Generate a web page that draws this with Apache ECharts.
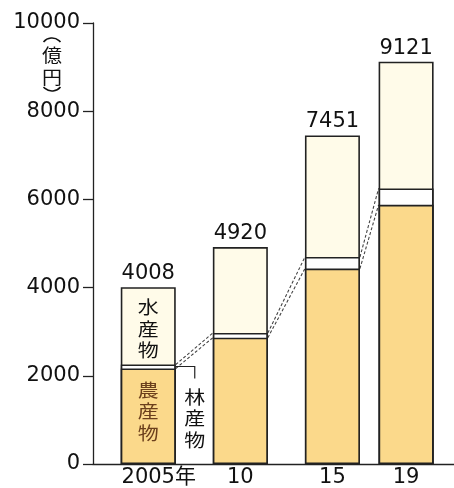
<!DOCTYPE html>
<html><head><meta charset="utf-8">
<script src="https://cdn.jsdelivr.net/npm/echarts@6/dist/echarts.min.js"></script>
<style>html,body{margin:0;padding:0;background:#fff}#c{width:454px;height:488px}</style>
</head><body><div id="c"></div>
<script>
const years = [2005, 2010, 2015, 2019];
const yearLabels = ['2005年', '10', '15', '19'];
const agri = [2166, 2865, 4431, 5878];
const forest = [90, 106, 263, 370];
const fish = [1752, 1949, 2757, 2873];
const totals = [4008, 4920, 7451, 9121];
const yTicks = [0, 2000, 4000, 6000, 8000, 10000];

const NUM = "'DejaVu Sans','Noto Sans CJK JP',sans-serif";
const JP = "'Noto Sans CJK JP',sans-serif";
const X_MIN = 2002, X_MAX = 2021.6;
const GRID = {left: 93, right: 0, top: 23, bottom: 24};
const BAR_W = 55;
const chart = echarts.init(document.getElementById('c'));
const pxPerYear = (454 - GRID.left - GRID.right) / (X_MAX - X_MIN);
const half = (BAR_W / 2) / pxPerYear;

// cumulative tops (drawn as overlapping bars, largest first)
const agriTop = agri.slice();
const forestTop = agri.map((v, i) => v + forest[i]);
const fishTop = forestTop.map((v, i) => v + fish[i]);

const border = {borderColor: '#222', borderWidth: 1.6};
function barSeries(name, vals, color, z, extra) {
  return Object.assign({
    name, type: 'bar', barWidth: BAR_W, barGap: '-100%',
    itemStyle: Object.assign({color}, border),
    data: vals.map((v, i) => [years[i], v]),
    z
  }, extra || {});
}

const series = [
  barSeries('水産物', fishTop, '#fffbe9', 3, {
    label: {show: true, position: 'top', distance: 3, color: '#111', fontFamily: NUM, fontSize: 21,
      formatter: p => String(totals[p.dataIndex])}
  }),
  barSeries('林産物', forestTop, '#ffffff', 4),
  barSeries('農産物', agriTop, '#fbd98b', 5)
];

// dashed connectors between agri tops and forestry tops of neighbouring bars
for (let i = 0; i < years.length - 1; i++) {
  [[agriTop[i], agriTop[i + 1]], [forestTop[i], forestTop[i + 1]]].forEach(([a, b]) => {
    series.push({
      type: 'line', silent: true, symbol: 'none', z: 2,
      lineStyle: {color: '#444', width: 1.1, type: [3, 2]},
      data: [[years[i] + half, a], [years[i + 1] - half, b]]
    });
  });
}

chart.setOption({
  animation: false,
  grid: GRID,
  xAxis: {
    type: 'value', min: X_MIN, max: X_MAX,
    splitLine: {show: false},
    axisLine: {lineStyle: {color: '#222', width: 1.3}},
    axisTick: {show: false},
    axisLabel: {
      customValues: years,
      formatter: v => {
        const i = years.indexOf(v);
        if (i < 0) return '';
        return i === 0 ? '{f|' + yearLabels[i] + '}' : yearLabels[i];
      },
      rich: {f: {padding: [0, 0, 0, 21], fontFamily: NUM, fontSize: 21, color: '#111'}},
      color: '#111', fontFamily: NUM, fontSize: 21, margin: 3
    }
  },
  yAxis: {
    type: 'value', min: 0, max: 10000, interval: 2000,
    splitLine: {show: false},
    axisLine: {show: true, lineStyle: {color: '#222', width: 1.3}},
    axisTick: {show: true, length: 10, lineStyle: {color: '#222', width: 1.3}},
    axisLabel: {color: '#111', fontFamily: NUM, fontSize: 21, margin: 13,
      customValues: yTicks, formatter: v => String(v)}
  },
  series
});

// annotations
const pFish = chart.convertToPixel({gridIndex: 0}, [years[0], forestTop[0] + fish[0] / 2]);
const pFor = chart.convertToPixel({gridIndex: 0}, [years[0] + half, agri[0] + forest[0] / 2]);
const pAgri = chart.convertToPixel({gridIndex: 0}, [years[0], agri[0] / 2]);
const legX = pFor[0] + 19;
const jp = (x, y, text, fill) => ({type: 'text', x, y, scaleY: 0.86, z: 10,
  style: {text, font: '21px ' + JP, lineHeight: 25, fill, align: 'center', verticalAlign: 'middle'}});
const parenStyle = {stroke: '#111', lineWidth: 1.6, fill: null};
chart.setOption({
  graphic: [
    {type: 'arc', shape: {cx: 52, cy: 49, r: 11, startAngle: Math.PI * 1.22, endAngle: Math.PI * 1.78}, style: parenStyle},
    {type: 'text', x: 52, y: 66, scaleY: 0.9, style: {text: '億\n円', font: '20px ' + JP, lineHeight: 25, fill: '#111', align: 'center', verticalAlign: 'middle'}},
    {type: 'arc', shape: {cx: 52, cy: 80, r: 11, startAngle: Math.PI * 0.22, endAngle: Math.PI * 0.78}, style: parenStyle},
    jp(pFish[0], pFish[1] + 3, '水\n産\n物', '#111'),
    jp(pAgri[0], pAgri[1] - 5, '農\n産\n物', '#6b3f1c'),
    {type: 'polyline', shape: {points: [[pFor[0], pFor[1]], [legX, pFor[1]], [legX, pFor[1] + 12]]}, style: {stroke: '#222', lineWidth: 1.2, fill: null}, z: 10},
    jp(legX, pAgri[1] + 2, '林\n産\n物', '#111')
  ]
});
</script></body></html>
